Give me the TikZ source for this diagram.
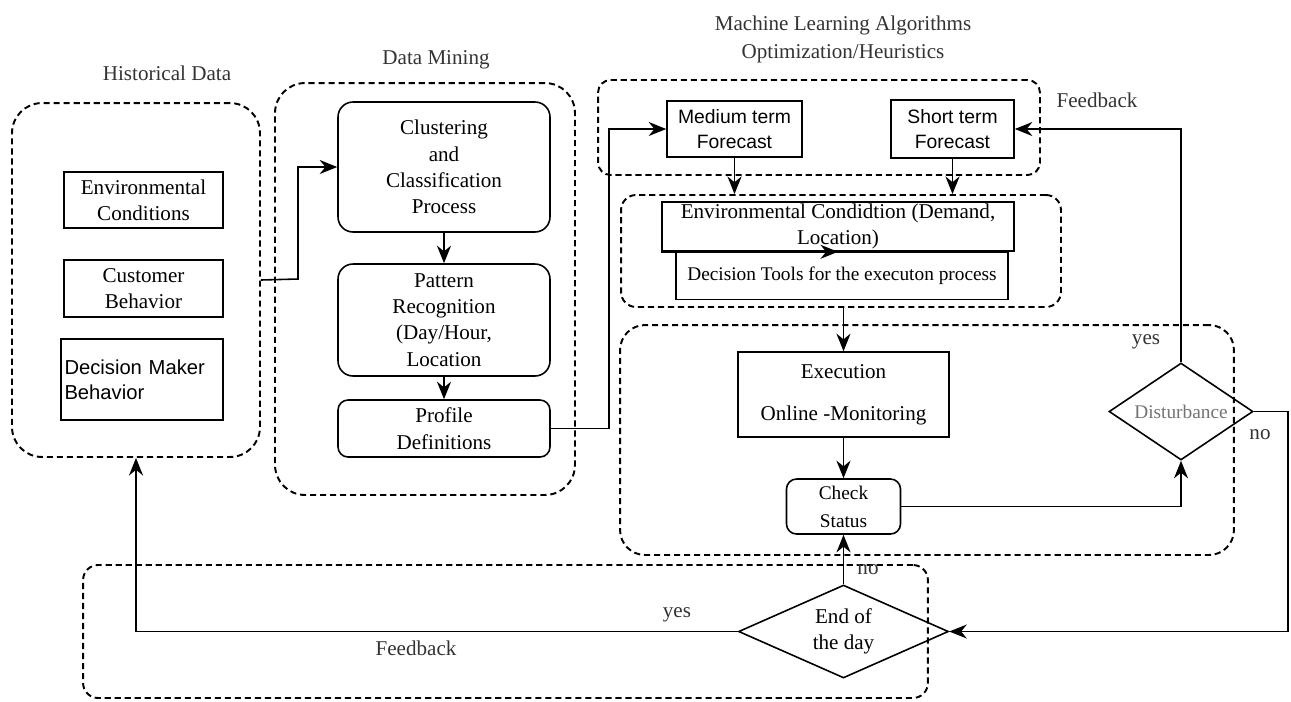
\documentclass[tikz,border=0pt]{standalone}
\usepackage{fontspec}
\setmainfont{Liberation Serif}
\setsansfont{Liberation Sans}
\usepackage{tikz}
\usetikzlibrary{arrows.meta, shapes.geometric}

\tikzset{
    grp/.style={draw, line width=1.1pt, dash pattern=on 3.5pt off 2.2pt,
        rounded corners=#1, inner sep=0pt},
    grp/.default=0.6cm,
    blk/.style={draw, line width=0.9pt, align=center, inner sep=2pt,
        font=\fontsize{12}{15}\selectfont},
    rblk/.style={blk, rounded corners=0.3cm},
    sblk/.style={blk, font=\sffamily\fontsize{11}{14}\selectfont},
    dec/.style={draw, line width=0.9pt, shape=diamond, inner sep=0pt,
        align=center, font=\fontsize{12}{13}\selectfont},
    arr/.style={line width=0.9pt, -{Stealth[length=10pt, width=8pt]}},
    ttl/.style={font=\fontsize{12}{15}\selectfont, text=black!80}
}

\begin{document}
\begin{tikzpicture}[x=0.02cm, y=-0.02cm]
        \useasboundingbox (0,0) rectangle (1291,701);

        % dashed groups
        \node[grp, minimum width=4.96cm, minimum height=7.08cm] (hist) at (136,280) {};
        \node[grp, minimum width=6cm, minimum height=8.24cm] (mining) at (425,289) {};
        \node[grp=0.25cm, minimum width=8.84cm, minimum height=1.9cm] (fcast) at (819,127.5) {};
        \node[grp=0.3cm, minimum width=8.8cm, minimum height=2.24cm] (tools) at (841,251) {};
        \node[grp=0.5cm, minimum width=12.28cm, minimum height=4.6cm] (online) at (927,440) {};
        \node[grp=0.3cm, minimum width=16.9cm, minimum height=2.66cm] (daygrp) at (505.5,631.5) {};

        % titles
        \node[ttl] (histtitle) at (167,73) {Historical Data};
        \node[ttl] (minetitle) at (436,60) {Data Mining};
        \node[ttl, align=center, font=\fontsize{12}{16}\selectfont] (mltitle) at (843,39)
            {Machine Learning Algorithms\\Optimization/Heuristics};

        % historical data
        \node[blk, minimum width=3.18cm, minimum height=1.12cm] (envc) at (143.5,200)
            {Environmental\\Conditions};
        \node[blk, minimum width=3.18cm, minimum height=1.14cm] (cust) at (143.5,288.5)
            {Customer\\Behavior};
        \node[sblk, minimum width=3.24cm, minimum height=1.62cm, align=left,
            text width=3.1cm, font=\sffamily\fontsize{11.5}{14}\selectfont]
            (dmb) at (142,379.5) {Decision Maker\\Behavior};

        % data mining
        \node[rblk, minimum width=4.24cm, minimum height=2.6cm] (clus) at (444,167)
            {Clustering\\and\\Classification\\Process};
        \node[rblk, minimum width=4.24cm, minimum height=2.24cm] (patt) at (444,320)
            {Pattern\\Recognition\\(Day/Hour,\\Location};
        \node[rblk, rounded corners=0.2cm, minimum width=4.24cm, minimum height=1.14cm]
            (prof) at (444,428.5) {Profile\\Definitions};

        % forecasts
        \node[sblk, minimum width=2.7cm, minimum height=1.12cm] (med) at (734.5,129)
            {Medium term\\Forecast};
        \node[sblk, minimum width=2.46cm, minimum height=1.16cm] (short) at (952.5,129)
            {Short term\\Forecast};

        % decision tools
        \node[blk, minimum width=7.04cm, minimum height=0.98cm, inner sep=0pt,
            font=\fontsize{12}{13.5}\selectfont] (envd) at (838,226.5)
            {Environmental Condidtion (Demand,\\[1pt]Location)};
        \node[blk, minimum width=6.64cm, minimum height=0.94cm,
            font=\fontsize{11}{13}\selectfont] (dtool) at (842,276)
            {Decision Tools for the executon process};

        % execution
        \node[blk, minimum width=4.22cm, minimum height=1.7cm] (exec) at (843.5,394.5)
            {Execution\\[9pt]Online -Monitoring};
        \node[rblk, rounded corners=0.2cm, minimum width=2.28cm, minimum height=1.1cm,
            font=\fontsize{11}{16}\selectfont] (check) at (843.5,506.5) {Check\\Status};
        \node[dec, aspect=1.5, minimum width=2.88cm, minimum height=1.94cm,
            text=black!55, font=\fontsize{11}{13}\selectfont] (dist) at (1181,411.5) {Disturbance};
        \node[dec, aspect=2.25, minimum width=4.2cm, minimum height=1.86cm,
            font=\fontsize{12}{15}\selectfont] (endday) at (843.5,631.5) {End of\\the day};

        % connectors
        \draw[arr] (hist.east) -- (298,279) |- (clus.west);
        \draw[arr] (clus) -- (patt);
        \draw[arr] (patt) -- (prof);
        \draw[arr] (prof.east) -- (609,428.5) |- (med.west);
        \draw[arr] (med.south) -- (med.south |- tools.north);
        \draw[arr] (short.south) -- (short.south |- tools.north);
        \draw[arr] (envd.south west) -- (envd.south);
        \draw[arr] (exec.north |- tools.south) -- (exec.north);
        \draw[arr] (exec) -- (check);
        \draw[arr] (check.east) -| (dist.south);
        \draw[arr] (dist.north) |- (short.east);
        \draw[arr] (dist.east) -- (1288,411.5) |- (endday.east);
        \draw[arr] (endday.north) -- (check.south);
        \draw[arr] (endday.west) -| (hist.south);

        % edge labels
        \node[ttl] (fbtop) at (1097,100) {Feedback};
        \node[ttl] (yesd) at (1146,342) {yes};
        \node[ttl] (nod) at (1260,435) {no};
        \node[ttl] (noe) at (868,570) {no};
        \node[ttl] (yese) at (677,615) {yes};
        \node[ttl] (fbbot) at (416,648) {Feedback};
    \end{tikzpicture}
\end{document}
